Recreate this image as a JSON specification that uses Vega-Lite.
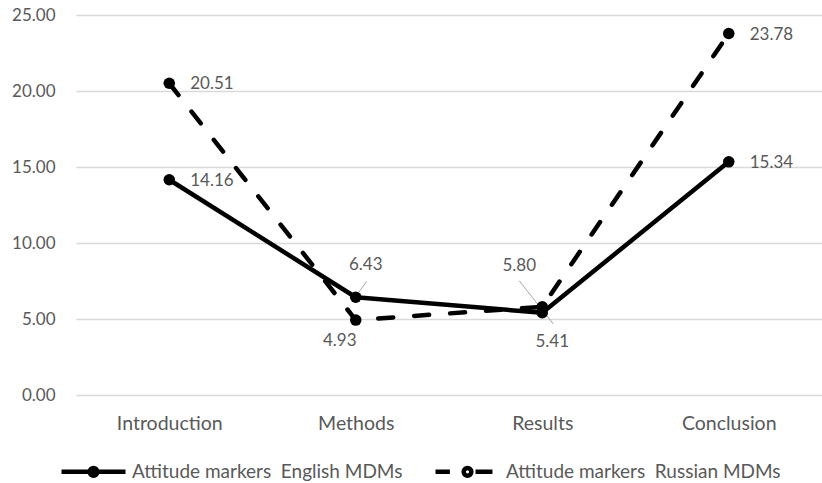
{
  "$schema": "https://vega.github.io/schema/vega-lite/v6.json",
  "width": 746,
  "height": 380,
  "autosize": {"type": "none"},
  "padding": {"left": 76, "top": 15, "right": 0, "bottom": 88},
  "background": "white",
  "config": {
    "view": {"stroke": null},
    "font": "Lato",
    "axis": {"labelFont": "Lato", "labelColor": "#595959", "labelFontSize": 17, "title": null},
    "legend": {"labelFont": "Lato"}
  },
  "data": {
    "values": [
      {"stage": "Introduction", "series": "Attitude markers\u00a0 English MDMs", "value": 14.16},
      {"stage": "Methods", "series": "Attitude markers\u00a0 English MDMs", "value": 6.43},
      {"stage": "Results", "series": "Attitude markers\u00a0 English MDMs", "value": 5.41},
      {"stage": "Conclusion", "series": "Attitude markers\u00a0 English MDMs", "value": 15.34},
      {"stage": "Introduction", "series": "Attitude markers\u00a0 Russian MDMs", "value": 20.51},
      {"stage": "Methods", "series": "Attitude markers\u00a0 Russian MDMs", "value": 4.93},
      {"stage": "Results", "series": "Attitude markers\u00a0 Russian MDMs", "value": 5.80},
      {"stage": "Conclusion", "series": "Attitude markers\u00a0 Russian MDMs", "value": 23.78}
    ]
  },
  "encoding": {
    "x": {
      "field": "stage", "type": "ordinal", "sort": ["Introduction", "Methods", "Results", "Conclusion"],
      "scale": {"type": "point", "padding": 0.5},
      "axis": {"domain": false, "ticks": false, "labelAngle": 0, "labelPadding": 19, "labelFontSize": 19.5, "grid": false}
    },
    "y": {
      "field": "value", "type": "quantitative",
      "scale": {"domain": [0, 25], "nice": false, "zero": true},
      "axis": {"values": [0, 5, 10, 15, 20, 25], "format": ".2f", "domain": false, "ticks": false, "labelPadding": 21, "grid": true, "gridColor": "#d9d9d9", "gridWidth": 1.3}
    }
  },
  "layer": [
    {
      "mark": {"type": "rule", "color": "#a6a6a6", "strokeWidth": 1, "xOffset": 0, "yOffset": -1, "x2Offset": 11, "y2Offset": -16},
      "transform": [{"filter": "datum.stage == 'Methods' && datum.value == 6.43"}],
      "encoding": {"x2": {"field": "stage"}, "y2": {"field": "value"}}
    },
    {
      "mark": {"type": "rule", "color": "#a6a6a6", "strokeWidth": 1, "xOffset": -23, "yOffset": -26, "x2Offset": 11, "y2Offset": 17},
      "transform": [{"filter": "datum.stage == 'Results' && datum.value == 5.80"}],
      "encoding": {"x2": {"field": "stage"}, "y2": {"field": "value"}}
    },
    {
      "mark": {"type": "line", "color": "black", "strokeWidth": 4.5, "strokeCap": "round", "strokeJoin": "round"},
      "transform": [{"filter": "test(/English/, datum.series)"}],
      "encoding": {}
    },
    {
      "mark": {"type": "line", "color": "black", "strokeWidth": 4.5, "strokeCap": "round", "strokeJoin": "round", "strokeDash": [15, 21]},
      "transform": [{"filter": "test(/Russian/, datum.series)"}],
      "encoding": {}
    },
    {
      "mark": {"type": "point", "filled": true, "color": "black", "size": 133, "opacity": 1}
    },
    {
      "mark": {"type": "point", "filled": false, "color": "black", "strokeWidth": 4.5, "opacity": 0},
      "encoding": {
        "shape": {
          "field": "series", "type": "nominal",
          "scale": {
            "domain": ["Attitude markers\u00a0 English MDMs", "Attitude markers\u00a0 Russian MDMs"],
            "range": [
              "M-1,0H1M0.12,0A0.12,0.12,0,1,1,-0.12,0A0.12,0.12,0,1,1,0.12,0",
              "M-1,0H-0.55M0.25,0H0.78M0.12,0A0.12,0.12,0,1,1,-0.12,0A0.12,0.12,0,1,1,0.12,0"
            ]
          },
          "legend": {
            "orient": "none", "direction": "horizontal", "legendX": -17, "legendY": 422,
            "title": null,
            "symbolSize": 4096, "symbolStrokeWidth": 4.5, "symbolFillColor": "black", "symbolStrokeColor": "black", "symbolOpacity": 1,
            "labelColor": "#595959", "labelFontSize": 19, "labelOffset": 4, "columnPadding": 23, "labelLimit": 400
          }
        }
      }
    },
    {
      "mark": {"type": "text", "align": "left", "baseline": "middle", "dx": 21, "dy": 1, "color": "#595959", "fontSize": 17},
      "transform": [{"filter": "datum.stage == 'Introduction' || datum.stage == 'Conclusion'"}],
      "encoding": {"text": {"field": "value", "type": "quantitative", "format": ".2f"}}
    },
    {
      "mark": {"type": "text", "align": "center", "baseline": "middle", "dx": 10, "dy": -32, "color": "#595959", "fontSize": 17},
      "transform": [{"filter": "datum.stage == 'Methods' && datum.value == 6.43"}],
      "encoding": {"text": {"field": "value", "type": "quantitative", "format": ".2f"}}
    },
    {
      "mark": {"type": "text", "align": "center", "baseline": "middle", "dx": -16, "dy": 21, "color": "#595959", "fontSize": 17},
      "transform": [{"filter": "datum.stage == 'Methods' && datum.value == 4.93"}],
      "encoding": {"text": {"field": "value", "type": "quantitative", "format": ".2f"}}
    },
    {
      "mark": {"type": "text", "align": "center", "baseline": "middle", "dx": -23, "dy": -41, "color": "#595959", "fontSize": 17},
      "transform": [{"filter": "datum.stage == 'Results' && datum.value == 5.80"}],
      "encoding": {"text": {"field": "value", "type": "quantitative", "format": ".2f"}}
    },
    {
      "mark": {"type": "text", "align": "center", "baseline": "middle", "dx": 10, "dy": 29, "color": "#595959", "fontSize": 17},
      "transform": [{"filter": "datum.stage == 'Results' && datum.value == 5.41"}],
      "encoding": {"text": {"field": "value", "type": "quantitative", "format": ".2f"}}
    }
  ]
}
